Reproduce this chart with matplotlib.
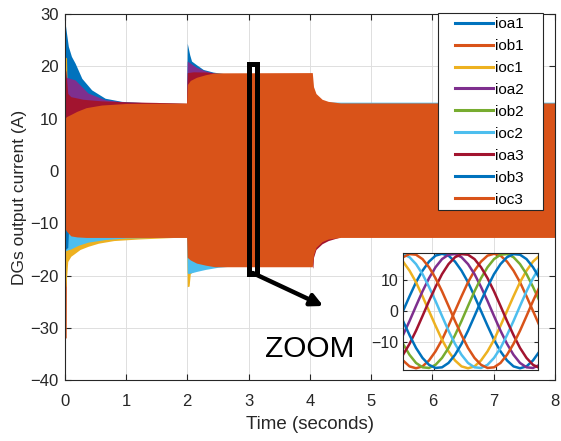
import matplotlib
matplotlib.use('Agg')
import matplotlib.pyplot as plt
from matplotlib.lines import Line2D
from matplotlib.patches import Rectangle

plt.rcParams['font.family'] = ['Liberation Sans', 'DejaVu Sans']

names = ['ioa1', 'iob1', 'ioc1', 'ioa2', 'iob2', 'ioc2', 'ioa3', 'iob3', 'ioc3']
colors = ['#0072BD', '#D95319', '#EDB120', '#7E2F8E', '#77AC30',
          '#4DBEEE', '#A2142F', '#0072BD', '#D95319']

# ---- main plot: envelopes of the 50 Hz currents (A)
# ioa1: upper transients at t=0 and t=2
ioa1_t = [0, 0.03, 0.06, 0.11, 0.17, 0.28, 0.44, 0.66, 0.93, 1.3, 1.99,
          2.0, 2.04, 2.07, 2.15, 2.26, 2.42, 2.6]
ioa1_hi = [28.9, 26.3, 23.8, 21.9, 20.6, 17.7, 15.5, 13.9, 13.3, 13.05, 12.9,
           24.4, 22.2, 21.0, 20.3, 19.4, 18.9, 18.6]
# iob1: lower spike at t=0
iob1_t = [0, 0.025, 0.03]
iob1_lo = [-31.9, -31.9, -12.0]
# ioc1: upper spike and lower transients
ioc1_hi_t = [0, 0.03, 0.045]
ioc1_hi = [21.9, 21.6, 12.0]
ioc1_lo_t = [0, 0.02, 0.05, 0.1, 0.17, 0.25, 0.38, 0.55, 0.8, 1.2, 1.99,
             2.0, 2.03, 2.05, 2.1, 2.3]
ioc1_lo = [-22.2, -22.0, -17.3, -16.3, -15.7, -15.0, -14.4, -13.8, -13.3, -13.0, -12.6,
           -22.1, -22.0, -19.6, -19.2, -18.2]
# ioa2: upper transients
ioa2_t = [0, 0.03, 0.17, 0.38, 0.66, 1.0, 1.5, 1.99, 2.0, 2.05, 2.15, 2.3, 2.45]
ioa2_hi = [16.0, 17.9, 17.4, 14.9, 13.6, 13.15, 13.05, 12.9, 21.0, 20.6, 19.8, 19.1, 18.7]
# ioc2: lower transients, and a hair above ioc3 after t=4
ioc2_lo_t = [0, 0.02, 0.1, 0.22, 0.38, 0.66, 1.0, 1.99, 2.0, 2.02, 2.15, 2.3, 2.5, 2.7]
ioc2_lo = [-15.5, -15.2, -14.9, -14.2, -13.6, -13.1, -12.8, -12.6,
           -19.5, -19.6, -19.2, -18.8, -18.4, -18.2]
ioc2_hi_t = [4.3, 4.5, 8]
ioc2_hi = [13.2, 13.15, 13.15]
# ioa3: upper transients and a rim at t=4
ioa3_hi_t = [0, 0.02, 0.05, 0.1, 0.3, 0.6, 1.0, 1.5, 1.99, 2.0, 2.1, 2.3, 2.45]
ioa3_hi = [20.0, 19.0, 14.8, 14.2, 13.7, 13.4, 13.2, 13.1, 12.9, 18.8, 18.95, 18.9, 18.7]
ioa3_lo_t = [4.04, 4.05, 4.06, 4.1, 4.2, 4.3, 4.5]
ioa3_lo = [-18.2, -18.6, -16.5, -15.0, -13.9, -13.3, -12.6]
# iob3: lower spike at t=0
iob3_t = [0, 0.05, 0.06]
iob3_lo = [-15.1, -14.6, -12.0]
# ioc3: full envelope (on top of everything)
ioc3_t = [0, 0.005, 0.03, 0.1, 0.2, 0.35, 0.6, 1.0, 1.99, 2.0, 2.05, 2.15, 2.3, 2.45,
          4.04, 4.06, 4.1, 4.2, 4.3, 4.5, 8]
ioc3_hi = [5, 10.1, 10.4, 10.8, 11.4, 12.1, 12.6, 12.9, 13.0, 16.5, 17.3, 17.9, 18.4, 18.75,
           18.8, 16.1, 14.8, 13.7, 13.3, 13.0, 13.0]
ioc3_lo = [-5, -11.0, -11.5, -12.4, -12.6, -12.7, -12.7, -12.7, -12.7, -16.5, -17.0, -17.6, -18.0, -18.3,
           -18.3, -16.0, -14.6, -13.5, -13.0, -12.7, -12.7]

# ---- inset: waveforms around t = 3.08 s (x in electrical degrees)
zoom_x = [0, 15, 30, 45, 60, 75, 90, 105, 120, 135, 150, 165, 180, 195, 210,
          225, 240, 255, 270, 285, 300, 315]
z_ioa1 = [0, 4.7, 9.2, 12.9, 15.8, 17.7, 18.3, 17.7, 15.8, 12.9, 9.2, 4.7, 0,
          -4.7, -9.2, -12.9, -15.8, -17.7, -18.3, -17.7, -15.8, -12.9]
z_iob1 = [-15.8, -17.7, -18.3, -17.7, -15.8, -12.9, -9.2, -4.7, 0, 4.7, 9.2, 12.9,
          15.8, 17.7, 18.3, 17.7, 15.8, 12.9, 9.2, 4.7, 0, -4.7]
z_ioc1 = [15.8, 12.9, 9.2, 4.7, 0, -4.7, -9.2, -12.9, -15.8, -17.7, -18.3, -17.7,
          -15.8, -12.9, -9.2, -4.7, 0, 4.7, 9.2, 12.9, 15.8, 17.7]
z_ioa2 = [-7.7, -3.2, 1.6, 6.3, 10.5, 14.0, 16.6, 18.0, 18.2, 17.2, 15.0, 11.8, 7.7,
          3.2, -1.6, -6.3, -10.5, -14.0, -16.6, -18.0, -18.2, -17.2]
z_iob2 = [-10.5, -14.0, -16.6, -18.0, -18.2, -17.2, -15.0, -11.8, -7.7, -3.2, 1.6, 6.3,
          10.5, 14.0, 16.6, 18.0, 18.2, 17.2, 15.0, 11.8, 7.7, 3.2]
z_ioc2 = [18.2, 17.2, 15.0, 11.8, 7.7, 3.2, -1.6, -6.3, -10.5, -14.0, -16.6, -18.0,
          -18.2, -17.2, -15.0, -11.8, -7.7, -3.2, 1.6, 6.3, 10.5, 14.0]
z_ioa3 = [-14.0, -10.5, -6.3, -1.6, 3.2, 7.7, 11.8, 15.0, 17.2, 18.2, 18.0, 16.6, 14.0,
          10.5, 6.3, 1.6, -3.2, -7.7, -11.8, -15.0, -17.2, -18.2]
z_iob3 = [-3.2, -7.7, -11.8, -15.0, -17.2, -18.2, -18.0, -16.6, -14.0, -10.5, -6.3, -1.6,
          3.2, 7.7, 11.8, 15.0, 17.2, 18.2, 18.0, 16.6, 14.0, 10.5]
z_ioc3 = [17.2, 18.2, 18.0, 16.6, 14.0, 10.5, 6.3, 1.6, -3.2, -7.7, -11.8, -15.0,
          -17.2, -18.2, -18.0, -16.6, -14.0, -10.5, -6.3, -1.6, 3.2, 7.7]
zoom_series = [z_ioa1, z_iob1, z_ioc1, z_ioa2, z_iob2, z_ioc2, z_ioa3, z_iob3, z_ioc3]

dark = '#262626'

fig = plt.figure(figsize=(5.61, 4.41), dpi=100)
ax = fig.add_axes([0.1153, 0.1376, 0.874, 0.8307])

# draw in the channel order, ioc3 last
ax.fill_between(ioa1_t, 0, ioa1_hi, color=colors[0], lw=0, zorder=2)
ax.fill_between(iob1_t, iob1_lo, 0, color=colors[1], lw=0, zorder=2)
ax.fill_between(ioc1_hi_t, 0, ioc1_hi, color=colors[2], lw=0, zorder=2)
ax.fill_between(ioc1_lo_t, ioc1_lo, 0, color=colors[2], lw=0, zorder=2)
ax.fill_between(ioa2_t, 0, ioa2_hi, color=colors[3], lw=0, zorder=2)
ax.fill_between(ioc2_lo_t, ioc2_lo, 0, color=colors[5], lw=0, zorder=2)
ax.fill_between(ioc2_hi_t, 0, ioc2_hi, color=colors[5], lw=0, zorder=2)
ax.fill_between(ioa3_hi_t, 0, ioa3_hi, color=colors[6], lw=0, zorder=2)
ax.fill_between(ioa3_lo_t, ioa3_lo, 0, color=colors[6], lw=0, zorder=2)
ax.fill_between(iob3_t, iob3_lo, 0, color=colors[7], lw=0, zorder=2)
ax.fill_between(ioc3_t, ioc3_lo, ioc3_hi, color=colors[8], lw=0, zorder=2)

ax.set_xlim(0, 8)
ax.set_ylim(-40, 30)
ax.set_xticks(range(0, 9))
ax.set_yticks(range(-40, 31, 10))
ax.tick_params(direction='in', top=True, right=True, labelsize=12, colors=dark, length=4, width=0.8)
ax.tick_params(axis='x', pad=10)
ax.tick_params(axis='y', pad=4.5)
ax.grid(color='#dedede', lw=0.7)
ax.set_axisbelow(True)
for s in ax.spines.values():
    s.set_color(dark)
    s.set_linewidth(0.8)
ax.set_xlabel('Time (seconds)', fontsize=13.5, color=dark, labelpad=5)
ax.set_ylabel('DGs output current (A)', fontsize=12.5, color=dark, labelpad=2)

# zoom box, arrow and caption
ax.add_patch(Rectangle((3.01, -19.7), 0.135, 40.1, fill=False, ec='black', lw=3.6, zorder=5))
ax.annotate('', xy=(4.22, -25.8), xytext=(3.07, -19.5),
            arrowprops=dict(arrowstyle='-|>', color='black', lw=3.2, mutation_scale=18,
                            shrinkA=0, shrinkB=0), zorder=5)
ax.text(3.27, -35.6, 'ZOOM', fontsize=21.5, va='baseline', ha='left', color='black')

# legend with a square MATLAB-like box
fig.add_artist(Rectangle((438 / 561, 1 - 210 / 441), 105 / 561, 196.7 / 441,
                         transform=fig.transFigure, fc='white', ec=dark, lw=0.8, zorder=3))
handles = [Line2D([], [], color=c, lw=2.2) for c in colors]
fig.legend(handles, names, loc='upper left', bbox_to_anchor=(455 / 561, 1 - 17 / 441),
           frameon=False, fontsize=11, labelspacing=0.52, handlelength=2.5,
           handletextpad=0.15, borderpad=0, borderaxespad=0)

# inset
axin = fig.add_axes([0.7184, 0.1621, 0.2406, 0.2653])
for vals, c in zip(zoom_series, colors):
    axin.plot(zoom_x, vals, color=c, lw=1.8)
axin.set_xlim(0, 311.5)
axin.set_ylim(-18.7, 18.7)
axin.set_yticks([-10, 0, 10])
axin.set_xticks([71.5, 214.6])
axin.set_xticklabels([])
axin.tick_params(direction='in', top=True, right=True, labelsize=11.5, colors=dark, length=3, width=0.8)
axin.grid(color='#dedede', lw=0.7)
for s in axin.spines.values():
    s.set_color(dark)
    s.set_linewidth(0.8)

fig.savefig('out.png', dpi=100)
